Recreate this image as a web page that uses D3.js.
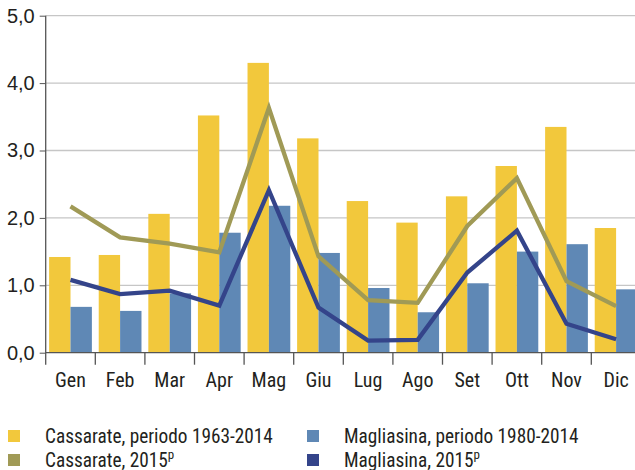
<!DOCTYPE html>
<html lang="it">
<head>
<meta charset="UTF-8" />
<title>Cassarate / Magliasina</title>
<script src="https://cdn.jsdelivr.net/npm/d3@7"></script>
<style>
body{margin:0;background:#fff;font-family:"Liberation Sans Narrow","Roboto Condensed","DejaVu Sans Condensed",sans-serif;font-stretch:condensed}
svg{display:block}
.tick text{fill:#231f20}
</style>
</head>
<body>
<svg id="chart" width="635" height="470"></svg>
<script>
/* ===== data ===== */
const months=['Gen','Feb','Mar','Apr','Mag','Giu','Lug','Ago','Set','Ott','Nov','Dic'];
const cassHist=[1.42,1.45,2.06,3.52,4.30,3.18,2.25,1.93,2.32,2.77,3.35,1.85];
const magHist =[0.68,0.62,0.88,1.78,2.18,1.48,0.96,0.60,1.03,1.50,1.61,0.94];
const cass2015=[2.17,1.71,1.62,1.49,3.63,1.43,0.78,0.74,1.88,2.59,1.06,0.69];
const mag2015 =[1.08,0.87,0.92,0.70,2.41,0.67,0.18,0.19,1.19,1.81,0.43,0.20];
const yTicks=[0,1,2,3,4,5];
const legendItems=[
  {label:'Cassarate, periodo 1963-2014',sup:'',color:'#f2c83c'},
  {label:'Magliasina, periodo 1980-2014',sup:'',color:'#5f88b5'},
  {label:'Cassarate, 2015',sup:'p',color:'#a09a56'},
  {label:'Magliasina, 2015',sup:'p',color:'#34448a'}
];

/* ===== chart ===== */
const svg=d3.select('#chart');
const M={l:45.7,t:15.7,b:117.3};
const H=470-M.t-M.b, bw=49.6;
const g=svg.append('g').attr('transform',`translate(${M.l},${M.t})`);

const x=d3.scaleBand().domain(months).range([0,bw*12]);
const x2=d3.scaleBand().domain(['h','m']).range([0,bw]).paddingOuter(0.16);
const y=d3.scaleLinear().domain([0,5]).range([H,0]);
const fmt=d=>d3.format('.1f')(d).replace('.',',');

/* grid */
g.append('g').selectAll('line').data(yTicks.slice(1)).join('line')
  .attr('x1',0).attr('x2',640).attr('y1',d=>y(d)).attr('y2',d=>y(d))
  .attr('stroke','#c6c6c6').attr('stroke-width',1.3);

/* bars */
const bars=g.append('g');
bars.selectAll('rect.h').data(cassHist).join('rect').attr('class','h')
  .attr('x',(d,i)=>x(months[i])+x2('h')).attr('width',x2.bandwidth())
  .attr('y',d=>y(d)).attr('height',d=>H-y(d)).attr('fill',legendItems[0].color);
bars.selectAll('rect.m').data(magHist).join('rect').attr('class','m')
  .attr('x',(d,i)=>x(months[i])+x2('m')).attr('width',x2.bandwidth())
  .attr('y',d=>y(d)).attr('height',d=>H-y(d)).attr('fill',legendItems[1].color);

/* lines */
const line=d3.line().x((d,i)=>x(months[i])+bw/2).y(d=>y(d));
g.append('path').datum(cass2015).attr('fill','none').attr('stroke',legendItems[2].color)
  .attr('stroke-width',4.3).attr('stroke-linejoin','miter').attr('d',line);
g.append('path').datum(mag2015).attr('fill','none').attr('stroke',legendItems[3].color)
  .attr('stroke-width',4.3).attr('stroke-linejoin','miter').attr('d',line);

/* axes */
const yAx=g.append('g').call(d3.axisLeft(y).tickValues(yTicks).tickSize(6).tickPadding(5).tickFormat(fmt));
yAx.select('.domain').remove();
yAx.selectAll('line').attr('stroke','#555');
yAx.selectAll('text').attr('font-size',20).attr('font-family','inherit');
g.append('line').attr('x1',0).attr('x2',0).attr('y1',0).attr('y2',H+12).attr('stroke','#555').attr('stroke-width',1.3);
g.append('line').attr('x1',0).attr('x2',640).attr('y1',H).attr('y2',H).attr('stroke','#555').attr('stroke-width',1.3);
g.append('g').selectAll('line').data(months.slice(1)).join('line')
  .attr('x1',d=>x(d)).attr('x2',d=>x(d)).attr('y1',H).attr('y2',H+12).attr('stroke','#555').attr('stroke-width',1.3);
g.append('g').selectAll('text').data(months).join('text')
  .attr('x',d=>x(d)+bw/2).attr('y',H+34).attr('text-anchor','middle')
  .attr('font-size',20).attr('fill','#231f20').text(d=>d);

/* legend */
const lg=svg.append('g').selectAll('g').data(legendItems).join('g')
  .attr('transform',(d,i)=>`translate(${i%2?307:8},${i<2?430:454})`);
lg.append('rect').attr('width',12).attr('height',12).attr('fill',d=>d.color);
const lt=lg.append('text').attr('x',37).attr('y',12.5).attr('font-size',19.3).attr('fill','#231f20');
lt.append('tspan').text(d=>d.label);
lt.append('tspan').attr('font-size',13).attr('dy',-8).text(d=>d.sup);
</script>
</body>
</html>
